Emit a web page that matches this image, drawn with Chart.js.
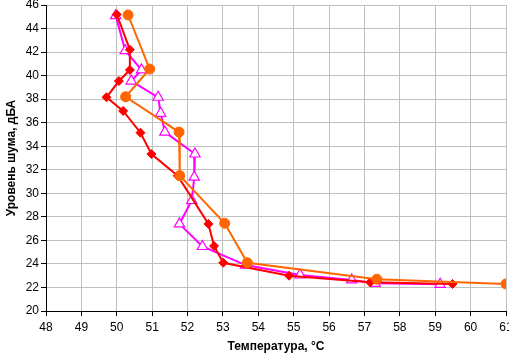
<!DOCTYPE html>
<html>
<head>
<meta charset="utf-8">
<script src="https://cdn.jsdelivr.net/npm/chart.js@4/dist/chart.umd.min.js"></script>
<style>
html,body{margin:0;padding:0;background:#fff;}
#wrap{width:509px;height:357px;}
</style>
</head>
<body>
<div id="wrap"><canvas id="c" width="509" height="357"></canvas></div>
<script>
// Series 1 (orange circles)
const orangeX = [50.32, 50.93, 50.25, 51.76, 51.78, 53.05, 53.69, 57.35, 61.0];
const orangeY = [45.15, 40.56, 38.2, 35.2, 31.5, 27.45, 24.1, 22.7, 22.3];
// Series 2 (red diamonds)
const redX = [50.0, 50.37, 50.37, 50.06, 49.71, 50.18, 50.67, 50.98, 51.72, 52.59, 52.75, 53.01, 54.87, 57.16, 59.49];
const redY = [45.2, 42.2, 40.48, 39.54, 38.16, 37.0, 35.15, 33.34, 31.5, 27.4, 25.52, 24.1, 23.0, 22.44, 22.3];
// Series 3 (magenta triangles)
const magentaX = [49.97, 50.24, 50.70, 50.41, 51.17, 51.24, 51.36, 52.21, 52.19, 52.12, 51.77, 52.42, 53.64, 55.18, 56.64, 57.30, 59.14];
const magentaY = [45.1, 42.12, 40.48, 39.54, 38.16, 36.8, 35.2, 33.34, 31.37, 29.39, 27.4, 25.48, 23.9, 23.06, 22.64, 22.35, 22.27];

const xTitle = 'Температура, °C';
const yTitle = 'Уровень шума, дБА';
const xMin = 48, xMax = 61, xStep = 1;
const yMin = 20, yMax = 46, yStep = 2;

function pts(xs, ys){ return xs.map((x,i)=>({x:x, y:ys[i]})); }

const FONT = 'Liberation Sans, Arial, sans-serif';

new Chart(document.getElementById('c'), {
  type: 'scatter',
  data: {
    datasets: [
      {
        data: pts(orangeX, orangeY), showLine: true,
        borderColor: '#FF6600', backgroundColor: '#FF6600', borderWidth: 2,
        pointStyle: 'circle', pointRadius: 5, pointBackgroundColor: '#FF6600', pointBorderColor: '#FF6600', pointBorderWidth: 1
      },
      {
        data: pts(redX, redY), showLine: true,
        borderColor: '#FF0000', backgroundColor: '#FF0000', borderWidth: 2,
        pointStyle: 'rectRot', pointRadius: 4.5, pointBackgroundColor: '#FF0000', pointBorderColor: '#FF0000', pointBorderWidth: 1
      },
      {
        data: pts(magentaX, magentaY), showLine: true,
        borderColor: '#FF00FF', backgroundColor: '#FFFFFF', borderWidth: 2,
        pointStyle: 'triangle', pointRadius: 6, pointBackgroundColor: '#FFFFFF', pointBorderColor: '#FF00FF', pointBorderWidth: 1.2
      }
    ]
  },
  options: {
    responsive: false,
    animation: false,
    devicePixelRatio: 1,
    layout: { autoPadding: false, padding: { left: 0, top: 5, right: 3, bottom: 0 } },
    plugins: { legend: { display: false }, tooltip: { enabled: false } },
    elements: { line: { tension: 0 } },
    scales: {
      x: {
        type: 'linear', min: xMin, max: xMax,
        ticks: { stepSize: xStep, color: '#000', font: { family: FONT, size: 12 }, padding: 4, maxRotation: 0 },
        grid: { color: '#C0C0C0', lineWidth: 1, tickColor: '#000', tickLength: 5 },
        border: { color: '#000', width: 1 },
        title: { display: true, text: xTitle, color: '#000', font: { family: FONT, size: 12, weight: 'bold' }, padding: { top: 2, bottom: 3 } },
        afterFit: s => { s.height = 46; s.paddingLeft = 0; s.paddingRight = 0; }
      },
      y: {
        type: 'linear', min: yMin, max: yMax,
        ticks: { stepSize: yStep, color: '#000', font: { family: FONT, size: 12 }, padding: 2 },
        grid: { color: '#C0C0C0', lineWidth: 1, tickColor: '#000', tickLength: 5 },
        border: { color: '#000', width: 1 },
        title: { display: true, text: yTitle, color: '#000', font: { family: FONT, size: 12, weight: 'bold' }, padding: { top: 4, bottom: 0 } },
        afterFit: s => { s.width = 46; s.paddingTop = 0; s.paddingBottom = 0; }
      }
    }
  }
});
</script>
</body>
</html>
